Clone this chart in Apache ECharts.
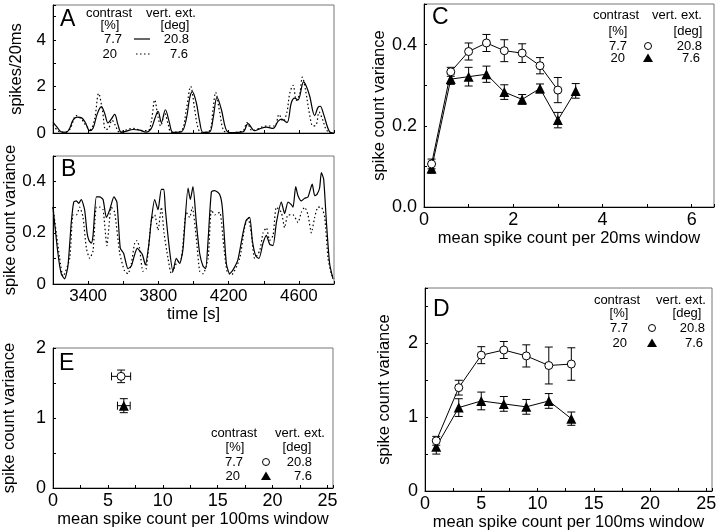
<!DOCTYPE html>
<html><head><meta charset="utf-8">
<script src="https://cdn.jsdelivr.net/npm/echarts@6/dist/echarts.min.js"></script>
<style>html,body{margin:0;padding:0;background:#fff}#c{width:720px;height:532px}</style>
</head><body><div id="c"></div>
<script>
// ---- Panel A: spikes/20ms time courses ----
const aSolidT = [3200,3223,3247,3276,3295,3314,3337,3361,3384,3409,3428,3451,3475,3494,3513,3532,3551,3570,3589,3618,3656,3693,3731,3760,3779,3798,3817,3840,3861,3883,3931,3959,3978,3993,4016,4035,4054,4092,4111,4134,4159,4183,4206,4282,4310,4348,4377,4415,4453,4481,4500,4532,4557,4576,4595,4627,4643,4661,4690,4709,4722,4741,4775,4800];
const aSolidV = [0.47,0.25,0.05,0.03,0.2,0.55,0.68,0.66,0.45,0.1,0.2,0.8,1.13,0.85,0.43,0.6,0.8,0.35,0.03,0.08,0.15,0.12,0.04,0.2,0.6,0.93,0.45,1.0,0.5,0.03,0.05,0.6,1.5,1.78,1.3,0.5,0.03,0.05,0.6,1.53,1.0,0.2,0.02,0.05,0.4,0.1,0.18,0.25,0.2,0.5,0.6,0.45,1.3,1.5,1.42,2.2,2.0,1.6,0.75,1.1,1.15,0.8,0.05,0];
const aDotT = [3200,3228,3257,3295,3333,3361,3390,3413,3437,3460,3481,3500,3517,3536,3557,3576,3656,3712,3741,3760,3779,3798,3813,3836,3855,3874,3931,3959,3984,4007,4026,4045,4092,4111,4126,4149,4172,4206,4282,4305,4335,4415,4462,4487,4510,4532,4548,4567,4586,4605,4620,4639,4661,4680,4699,4715,4734,4760,4800];
const aDotV = [0.35,0.1,0.02,0.15,0.75,0.6,0.3,0.15,0.6,1.7,1.0,0.15,0.2,0.55,0.3,0.05,0.2,0.1,0.1,0.5,1.42,0.7,0.3,0.85,0.4,0.03,0.1,1.0,2.0,1.0,0.2,0.02,0.1,1.0,1.75,0.9,0.1,0.02,0.1,0.45,0.1,0.3,0.3,0.8,0.5,0.9,1.7,2.05,1.4,1.7,2.4,1.8,0.8,0.3,0.35,0.9,0.6,0.1,0];

// ---- Panel B: spike count variance time courses ----
const bSolidT = [3200,3228,3247,3266,3285,3304,3318,3333,3346,3361,3380,3394,3405,3418,3428,3447,3466,3485,3504,3523,3547,3564,3583,3602,3627,3646,3665,3680,3693,3709,3726,3745,3760,3779,3798,3817,3831,3840,3864,3883,3902,3921,3940,3969,3982,3997,4016,4035,4054,4069,4083,4102,4121,4149,4164,4187,4206,4225,4253,4282,4301,4320,4335,4354,4373,4396,4415,4434,4453,4472,4500,4519,4538,4557,4567,4582,4595,4614,4633,4652,4676,4690,4703,4718,4728,4741,4756,4775,4794];
const bSolidV = [0.30,0.12,0.04,0.02,0.07,0.24,0.32,0.325,0.315,0.33,0.29,0.20,0.17,0.16,0.19,0.34,0.34,0.33,0.26,0.29,0.34,0.32,0.14,0.12,0.06,0.07,0.115,0.14,0.13,0.115,0.075,0.15,0.25,0.33,0.29,0.37,0.37,0.29,0.13,0.05,0.10,0.08,0.135,0.375,0.33,0.38,0.24,0.12,0.07,0.06,0.17,0.36,0.365,0.35,0.30,0.08,0.04,0.055,0.095,0.20,0.25,0.26,0.17,0.11,0.10,0.16,0.19,0.155,0.15,0.24,0.32,0.275,0.32,0.31,0.30,0.38,0.345,0.325,0.335,0.34,0.39,0.345,0.35,0.375,0.435,0.41,0.25,0.08,0.02];
const bDotT = [3200,3238,3257,3295,3314,3333,3352,3371,3390,3409,3428,3447,3466,3485,3507,3532,3551,3580,3608,3627,3646,3665,3678,3693,3712,3731,3760,3779,3798,3817,3832,3855,3874,3902,3931,3959,3978,3993,4016,4035,4054,4083,4102,4121,4149,4172,4191,4215,4263,4291,4310,4329,4348,4377,4396,4415,4434,4453,4472,4500,4519,4538,4567,4595,4614,4633,4652,4671,4690,4709,4728,4747,4766,4785,4800];
const bDotV = [0.30,0.10,0.03,0.10,0.27,0.27,0.30,0.26,0.14,0.10,0.13,0.30,0.30,0.29,0.15,0.30,0.28,0.12,0.05,0.04,0.08,0.16,0.17,0.14,0.05,0.06,0.25,0.27,0.21,0.30,0.20,0.10,0.04,0.08,0.10,0.28,0.26,0.30,0.18,0.05,0.04,0.10,0.29,0.27,0.28,0.15,0.05,0.035,0.10,0.22,0.26,0.20,0.10,0.13,0.20,0.22,0.17,0.19,0.30,0.28,0.22,0.27,0.27,0.24,0.28,0.30,0.27,0.20,0.26,0.30,0.30,0.26,0.10,0.04,0.02];

// ---- Panel C: variance vs mean, 20 ms windows ----
const cCircX = [0.17,0.6,1.0,1.4,1.8,2.2,2.6,3.0];
const cCircY = [0.106,0.333,0.383,0.404,0.385,0.379,0.348,0.288];
const cCircE = [0.012,0.011,0.021,0.021,0.027,0.023,0.02,0.031];
const cTriX = [0.17,0.6,1.0,1.4,1.8,2.2,2.6,3.0,3.4];
const cTriY = [0.095,0.315,0.321,0.327,0.283,0.265,0.292,0.214,0.286];
const cTriE = [0.012,0.013,0.023,0.02,0.018,0.012,0.011,0.019,0.018];

// ---- Panel D: variance vs mean, 100 ms windows ----
const dCircX = [1,3,5,7,9,11,13];
const dCircY = [0.68,1.40,1.84,1.91,1.83,1.70,1.72];
const dCircE = [0.06,0.1,0.115,0.115,0.15,0.25,0.22];
const dTriX = [1,3,5,7,9,11,13];
const dTriY = [0.60,1.13,1.22,1.18,1.14,1.22,0.98];
const dTriE = [0.1,0.12,0.12,0.1,0.1,0.1,0.09];

// ---- Panel E: population means ----
const eCirc = {x:6.2, y:1.595, ex:0.87, ey:0.09};
const eTri = {x:6.45, y:1.176, ex:0.58, ey:0.1};

const zip = (a,b) => a.map((v,i)=>[v,b[i]]);
const zip3 = (a,b,c) => a.map((v,i)=>[v,b[i],c[i]]);
const FONT = 'Liberation Sans, Arial, sans-serif';
const NAME_FS = 16.5;

function labeler(start, step, fmt){
  return function(v){
    const k = Math.round((v-start)/step);
    return Math.abs(v-start-k*step) < 1e-6 ? fmt(v) : '';
  };
}
const fInt = v => String(Math.round(v));
const fOne = v => v.toFixed(1);
const fB = v => (Math.abs(v)<1e-9 ? '0' : v.toFixed(1));

function xAx(g, min, max, interval, lstart, lstep, fmt, name, gap, showLabel, fs){
  return {type:'value', gridIndex:g, min, max, interval,
    axisLine:{show:true, onZero:false, lineStyle:{color:'#000', width:1}},
    axisTick:{show:true, inside:true, length:3, lineStyle:{color:'#000'}},
    splitLine:{show:false},
    axisLabel:{show:showLabel, color:'#000', fontSize:fs, fontFamily:FONT, margin:4,
      formatter: labeler(lstart, lstep, fmt), showMaxLabel:true, showMinLabel:true, hideOverlap:false},
    name: name, nameLocation:'middle', nameGap:gap,
    nameTextStyle:{color:'#000', fontSize:NAME_FS, fontFamily:FONT}
  };
}
function yAx(g, min, max, interval, lstart, lstep, fmt, name, gap, fs){
  return {type:'value', gridIndex:g, min, max, interval,
    axisLine:{show:true, onZero:false, lineStyle:{color:'#000', width:1}},
    axisTick:{show:true, inside:true, length:3, lineStyle:{color:'#000'}},
    splitLine:{show:false},
    axisLabel:{color:'#000', fontSize:fs, fontFamily:FONT, margin:7,
      formatter: labeler(lstart, lstep, fmt), showMaxLabel:true, showMinLabel:true, hideOverlap:false},
    name: name, nameLocation:'middle', nameGap:gap, nameRotate:90,
    nameTextStyle:{color:'#000', fontSize:NAME_FS, fontFamily:FONT}
  };
}

function errRender(withX){
  return function(params, api){
    const x = api.value(0), y = api.value(1), ey = api.value(2);
    const t = api.coord([x, y+ey]), b = api.coord([x, y-ey]);
    const cap = 4;
    const st = {stroke:'#000', lineWidth:1};
    const ch = [
      {type:'line', shape:{x1:t[0], y1:t[1], x2:b[0], y2:b[1]}, style:st},
      {type:'line', shape:{x1:t[0]-cap, y1:t[1], x2:t[0]+cap, y2:t[1]}, style:st},
      {type:'line', shape:{x1:b[0]-cap, y1:b[1], x2:b[0]+cap, y2:b[1]}, style:st}
    ];
    if (withX){
      const ex = api.value(3);
      const l = api.coord([x-ex, y]), r = api.coord([x+ex, y]);
      ch.push({type:'line', shape:{x1:l[0], y1:l[1], x2:r[0], y2:r[1]}, style:st});
      ch.push({type:'line', shape:{x1:l[0], y1:l[1]-cap, x2:l[0], y2:l[1]+cap}, style:st});
      ch.push({type:'line', shape:{x1:r[0], y1:r[1]-cap, x2:r[0], y2:r[1]+cap}, style:st});
    }
    return {type:'group', children:ch};
  };
}

const circStyle = {color:'#fff', borderColor:'#000', borderWidth:1};
const triStyle = {color:'#000'};
function markerSeries(g, data, circle, withLine){
  return {type:'line', xAxisIndex:g, yAxisIndex:g, data,
    symbol: circle ? 'circle' : 'triangle', symbolSize: circle ? 8 : 10,
    itemStyle: circle ? circStyle : triStyle,
    lineStyle:{color:'#000', width: withLine ? 1 : 0, opacity: withLine ? 1 : 0},
    z:5, silent:true, animation:false};
}
function errSeries(g, data, withX){
  return {type:'custom', xAxisIndex:g, yAxisIndex:g, data, renderItem: errRender(withX),
    encode:{x:0, y:1}, z:3, silent:true, animation:false};
}

// legend graphics
function txt(x, y, s, align){
  return {type:'text', x, y, style:{text:s, x:0, y:0, fill:'#000', font:'13px '+FONT,
    textAlign:align||'center', textVerticalAlign:'middle'}, silent:true};
}
function legendBlock(o){
  const g = [];
  g.push(txt(o.c1, o.y0, 'contrast'));
  g.push(txt(o.c2, o.y0, 'vert. ext.'));
  g.push(txt(o.p1, o.y1, '[%]'));
  g.push(txt(o.p2, o.y1, '[deg]'));
  g.push(txt(o.r1, o.y2, '7.7', 'right'));
  g.push(txt(o.r2, o.y2, '20.8', 'right'));
  g.push(txt(o.r1b, o.y3, '20', 'right'));
  g.push(txt(o.r2b, o.y3, '7.6', 'right'));
  if (o.lines){
    g.push({type:'line', shape:{x1:o.m-8, y1:o.y2, x2:o.m+8, y2:o.y2}, style:{stroke:'#000', lineWidth:1.2}});
    g.push({type:'line', shape:{x1:o.m-6, y1:o.y3, x2:o.m+10, y2:o.y3}, style:{stroke:'#000', lineWidth:1.2, lineDash:[1.5,2.5]}});
  } else {
    g.push({type:'circle', shape:{cx:o.m, cy:o.y2, r:3.5}, style:{fill:'#fff', stroke:'#000', lineWidth:1}});
    g.push({type:'polygon', shape:{points:[[o.m, o.y3-4.5],[o.m-5, o.y3+4],[o.m+5, o.y3+4]]}, style:{fill:'#000'}});
  }
  return g;
}
function letter(x, y, s){
  return {type:'text', x, y, style:{text:s, fill:'#000', font:'23px '+FONT, textAlign:'left', textVerticalAlign:'top'}, silent:true};
}

const graphics = [].concat(
  legendBlock({lines:true, c1:109, c2:171, p1:110, p2:175, r1:122, r2:189, r1b:117, r2b:188, m:142, y0:13, y1:25, y2:39, y3:54}),
  legendBlock({lines:false, c1:616, c2:677, p1:618, p2:688, r1:627, r2:702, r1b:625, r2b:700, m:648, y0:15, y1:31, y2:46, y3:58}),
  legendBlock({lines:false, c1:617, c2:681, p1:619, p2:687, r1:628, r2:705, r1b:627, r2b:703, m:652, y0:300, y1:313, y2:328, y3:343}),
  legendBlock({lines:false, c1:234, c2:300, p1:235, p2:297, r1:243, r2:312, r1b:240, r2b:312, m:266, y0:433, y1:447, y2:462, y3:476}),
  [letter(60, 8, 'A'), letter(61, 158, 'B'), letter(432, 6, 'C'), letter(433, 298, 'D'), letter(59, 352, 'E')]
);

const gridStyle = {show:true, borderColor:'#777', borderWidth:1, backgroundColor:'transparent'};
const option = {
  animation:false,
  backgroundColor:'#fff',
  grid:[
    Object.assign({left:53, top:5, width:281, height:128}, gridStyle),
    Object.assign({left:53, top:156, width:281, height:128}, gridStyle),
    Object.assign({left:424, top:4, width:290, height:203}, gridStyle),
    Object.assign({left:425, top:288, width:287, height:203}, gridStyle),
    Object.assign({left:53, top:348, width:280, height:140}, gridStyle)
  ],
  xAxis:[
    xAx(0, 3200, 4800, 200, 3400, 400, fInt, '', 20, false, 17),
    xAx(1, 3200, 4800, 200, 3400, 400, fInt, 'time [s]', 21, true, 17),
    xAx(2, 0, 6.5, 1, 0, 2, fInt, 'mean spike count per 20ms window', 22, true, 18),
    xAx(3, 0, 25.5, 2.5, 0, 5, fInt, 'mean spike count per 100ms window', 20, true, 18),
    xAx(4, 0, 25.5, 2.5, 0, 5, fInt, 'mean spike count per 100ms window', 23, true, 18)
  ],
  yAxis:[
    yAx(0, 0, 5.5, 1, 0, 2, fInt, 'spikes/20ms', 28, 17),
    yAx(1, 0, 0.5, 0.1, 0, 0.2, fB, 'spike count variance', 34, 17),
    yAx(2, 0, 0.5, 0.1, 0, 0.2, fOne, 'spike count variance', 33, 18),
    yAx(3, 0, 2.75, 0.5, 0, 1, fInt, 'spike count variance', 32, 18),
    yAx(4, 0, 2, 0.5, 0, 1, fInt, 'spike count variance', 35, 18)
  ],
  series:[
    {type:'line', xAxisIndex:0, yAxisIndex:0, data:zip(aDotT, aDotV), showSymbol:false, smooth:0.35,
      lineStyle:{color:'#000', width:1.2, type:[1.5,2.5]}},
    {type:'line', xAxisIndex:0, yAxisIndex:0, data:zip(aSolidT, aSolidV), showSymbol:false, smooth:0.35,
      lineStyle:{color:'#000', width:1.2}},
    {type:'line', xAxisIndex:1, yAxisIndex:1, data:zip(bDotT, bDotV), showSymbol:false, smooth:0.2,
      lineStyle:{color:'#000', width:1.2, type:[1.5,2.5]}},
    {type:'line', xAxisIndex:1, yAxisIndex:1, data:zip(bSolidT, bSolidV), showSymbol:false, smooth:0.2,
      lineStyle:{color:'#000', width:1.2}},
    errSeries(2, zip3(cCircX, cCircY, cCircE), false),
    errSeries(2, zip3(cTriX, cTriY, cTriE), false),
    markerSeries(2, zip(cTriX, cTriY), false, true),
    markerSeries(2, zip(cCircX, cCircY), true, true),
    errSeries(3, zip3(dCircX, dCircY, dCircE), false),
    errSeries(3, zip3(dTriX, dTriY, dTriE), false),
    markerSeries(3, zip(dTriX, dTriY), false, true),
    markerSeries(3, zip(dCircX, dCircY), true, true),
    errSeries(4, [[eCirc.x, eCirc.y, eCirc.ey, eCirc.ex],[eTri.x, eTri.y, eTri.ey, eTri.ex]], true),
    markerSeries(4, [[eTri.x, eTri.y]], false, false),
    markerSeries(4, [[eCirc.x, eCirc.y]], true, false)
  ],
  graphic: graphics
};
const chart = echarts.init(document.getElementById('c'), null, {renderer:'canvas'});
chart.setOption(option);
</script>
</body></html>
